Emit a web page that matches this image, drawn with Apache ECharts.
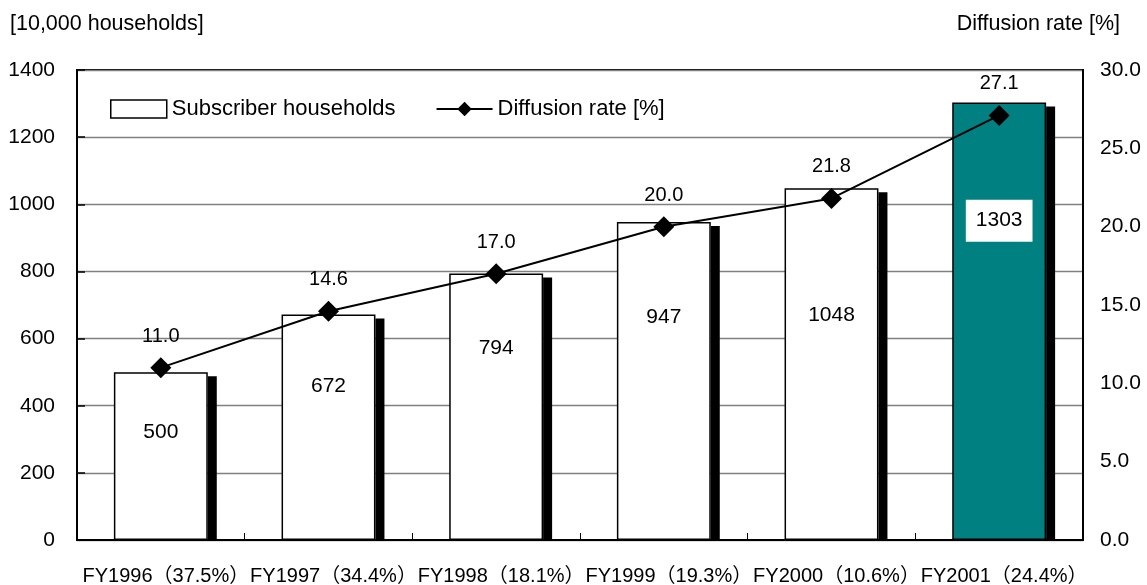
<!DOCTYPE html>
<html>
<head>
<meta charset="utf-8">
<script src="https://cdn.jsdelivr.net/npm/echarts@6/dist/echarts.min.js"></script>
<style>html,body{margin:0;padding:0;background:#fff}#c{width:1147px;height:585px}</style>
</head>
<body>
<div id="c"></div>
<script>
const years = ['FY1996', 'FY1997', 'FY1998', 'FY1999', 'FY2000', 'FY2001'];
const growthRates = [37.5, 34.4, 18.1, 19.3, 10.6, 24.4];
const subscribers = [500, 672, 794, 947, 1048, 1303];
const diffusionRate = [11.0, 14.6, 17.0, 20.0, 21.8, 27.1];
const leftTicks = { min: 0, max: 1400, interval: 200 };
const rightTicks = { min: 0, max: 30, interval: 5 };

const FONT = '"Liberation Sans", "Noto Sans CJK JP", sans-serif';
const categories = years.map((y, i) => y + '（' + growthRates[i].toFixed(1) + '%）');
const labelY = ['36%', '32%', '28%', '30%', '36%', '27%'];
const BAR_W = 0.56;

const barData = subscribers.map((v, i) => {
  const last = i === subscribers.length - 1;
  return {
    value: v,
    itemStyle: last ? { color: '#008080' } : undefined,
    label: {
      position: ['50%', labelY[i]],
      backgroundColor: last ? '#fff' : 'transparent',
      padding: last ? [11, 10, 10, 10] : 0
    }
  };
});

const chart = echarts.init(document.getElementById('c'), null, { renderer: 'canvas' });
chart.setOption({
  animation: false,
  backgroundColor: '#fff',
  title: [
    { text: '[10,000 households]', left: 10, top: 13, padding: 0,
      textStyle: { fontFamily: FONT, fontSize: 21.5, fontWeight: 'normal', color: '#000' } },
    { text: 'Diffusion rate [%]', right: 27, top: 13, padding: 0,
      textStyle: { fontFamily: FONT, fontSize: 21.5, fontWeight: 'normal', color: '#000' } }
  ],
  grid: { left: 77, right: 64, top: 70, bottom: 45, outerBoundsMode: 'none', containLabel: false,
          show: true, borderColor: '#000', borderWidth: 2, backgroundColor: 'transparent' },
  legend: {
    left: 110, top: 98, padding: 0,
    itemWidth: 56, itemHeight: 18, itemGap: 40,
    textStyle: { fontFamily: FONT, fontSize: 22, color: '#000' },
    data: [
      { name: 'Subscriber households', icon: 'rect', itemStyle: { color: '#fff', borderColor: '#000', borderWidth: 1.5 } },
      { name: 'Diffusion rate [%]' }
    ]
  },
  xAxis: {
    type: 'category',
    data: categories,
    axisLine: { show: true, lineStyle: { color: '#000', width: 2 } },
    axisTick: { show: true, inside: true, length: 7, lineStyle: { color: '#000', width: 1 } },
    axisLabel: { fontFamily: FONT, fontSize: 20, color: '#000', margin: 26, interval: 0, padding: [0, 0, 0, 10] },
    splitLine: { show: false }
  },
  yAxis: [
    {
      type: 'value', min: leftTicks.min, max: leftTicks.max, interval: leftTicks.interval,
      axisLine: { show: true, lineStyle: { color: '#000', width: 2 } },
      axisTick: { show: true, inside: true, length: 8, lineStyle: { color: '#000', width: 1.5 } },
      axisLabel: { fontFamily: FONT, fontSize: 21, color: '#000', margin: 22, formatter: v => String(v) },
      splitLine: { show: true, lineStyle: { color: '#808080', width: 1.3 } }
    },
    {
      type: 'value', min: rightTicks.min, max: rightTicks.max, interval: rightTicks.interval,
      axisLine: { show: true, lineStyle: { color: '#000', width: 2 } },
      axisTick: { show: false },
      axisLabel: { fontFamily: FONT, fontSize: 21, color: '#000', margin: 17, formatter: v => v.toFixed(1) },
      splitLine: { show: false }
    }
  ],
  series: [
    {
      name: 'shadow',
      type: 'custom',
      yAxisIndex: 0,
      z: 1,
      silent: true,
      data: subscribers.map((v, i) => [i, v]),
      renderItem: function (params, api) {
        const top = api.coord([api.value(0), api.value(1)]);
        const base = api.coord([api.value(0), 0]);
        const band = api.size([1, 0])[0];
        const bw = band * BAR_W;
        return {
          type: 'rect',
          shape: { x: top[0] + bw / 2, y: top[1] + 4, width: 9, height: base[1] - top[1] - 4 },
          style: { fill: '#000' }
        };
      }
    },
    {
      name: 'Subscriber households',
      type: 'bar',
      yAxisIndex: 0,
      z: 3,
      barWidth: (BAR_W * 100) + '%',
      data: barData,
      itemStyle: { color: '#fff', borderColor: '#000', borderWidth: 1.5 },
      label: {
        show: true,
        align: 'center', verticalAlign: 'middle',
        fontFamily: FONT, fontSize: 21, color: '#000'
      }
    },
    {
      name: 'Diffusion rate [%]',
      type: 'line',
      yAxisIndex: 1,
      z: 5,
      data: diffusionRate,
      symbol: 'diamond',
      symbolSize: 21,
      itemStyle: { color: '#000' },
      lineStyle: { color: '#000', width: 2 },
      label: {
        show: true, position: 'top', distance: 11,
        fontFamily: FONT, fontSize: 20, color: '#000',
        formatter: p => p.value.toFixed(1)
      }
    }
  ]
});
</script>
</body>
</html>
